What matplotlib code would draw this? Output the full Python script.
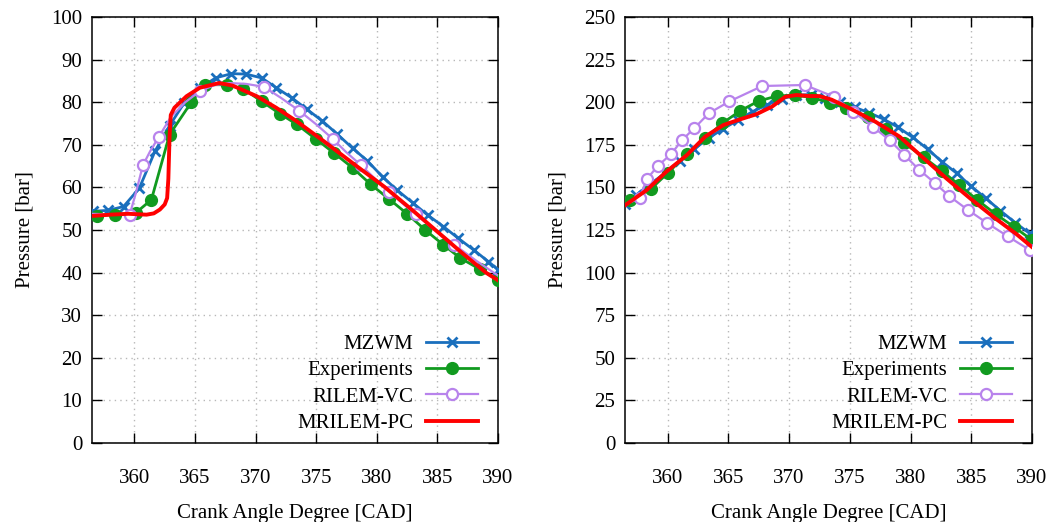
import matplotlib
matplotlib.use("Agg")
import matplotlib.pyplot as plt

plt.rcParams['font.family'] = ['Liberation Serif', 'DejaVu Serif']
plt.rcParams['mathtext.fontset'] = 'stix'

# ---------------- Data: left panel ----------------
L_mzwm_x = [356.6, 357.8, 359.1, 360.4, 361.7, 362.9, 364.1, 365.4, 366.7, 368.0, 369.2, 370.5,
            371.7, 373.0, 374.2, 375.5, 376.7, 378.0, 379.2, 380.5, 381.7, 383.0, 384.2, 385.5,
            386.7, 388.0, 389.2, 390.0]
L_mzwm_y = [54.4, 54.6, 55.5, 59.8, 68.5, 74.5, 79.8, 83.3, 85.7, 86.7, 86.6, 85.7,
            83.4, 81.0, 78.4, 75.6, 72.6, 69.2, 66.3, 62.4, 59.3, 56.3, 53.5, 50.8,
            48.1, 45.3, 42.6, 40.7]

L_exp_x = [356.9, 358.4, 360.1, 361.4, 362.9, 364.7, 365.8, 367.6, 369.0, 370.5, 372.0, 373.4,
           375.0, 376.5, 378.0, 379.5, 381.0, 382.5, 384.0, 385.5, 386.9, 388.5, 390.0]
L_exp_y = [53.4, 53.6, 54.0, 57.1, 72.4, 80.0, 84.1, 84.1, 83.1, 80.2, 77.3, 74.8,
           71.3, 68.0, 64.6, 60.7, 57.3, 53.8, 50.0, 46.5, 43.4, 40.8, 38.3]

L_vc_x = [356.5, 357.5, 358.5, 359.6, 360.1, 360.7, 361.3, 362.0, 363.0, 364.2, 365.4, 366.6,
          367.8, 369.2, 370.7, 372.1, 373.6, 375.0, 376.4, 377.5, 378.7, 379.8, 381.0, 382.1,
          383.2, 384.8, 386.4, 388.2, 390.0]
L_vc_y = [53.8, 53.7, 53.6, 53.5, 58.5, 65.2, 68.5, 71.8, 76.5, 80.0, 82.6, 84.0,
          84.5, 84.3, 83.6, 81.0, 78.0, 74.8, 71.3, 68.2, 65.2, 62.2, 59.0, 56.3,
          53.7, 50.0, 46.5, 42.8, 39.3]
L_vc_marks = [3, 5, 7, 10, 14, 16, 18, 20, 22, 24, 26]

L_pc_x = [356.5, 358.0, 359.5, 361.0, 361.6, 362.1, 362.5, 362.7, 362.8, 362.9, 363.0, 363.3,
          364.3, 365.4, 367.0, 368.1, 370.1, 371.7, 373.4, 375.6, 378.1, 380.6, 383.0, 385.0,
          387.0, 389.0, 390.0]
L_pc_y = [53.3, 53.6, 53.8, 53.6, 53.9, 54.8, 56.0, 57.5, 62.0, 72.0, 77.0, 78.7,
          81.4, 83.4, 84.5, 83.9, 81.4, 78.7, 75.5, 70.9, 65.5, 60.2, 54.5, 49.6,
          44.7, 40.0, 38.2]

# ---------------- Data: right panel ----------------
R_mzwm_x = [356.5, 357.4, 358.6, 359.8, 361.0, 362.2, 363.4, 364.6, 365.8, 367.0, 368.2, 369.4,
            370.6, 371.8, 373.0, 374.2, 375.4, 376.6, 377.8, 379.0, 380.2, 381.4, 382.6, 383.8,
            385.0, 386.2, 387.4, 388.6, 389.8]
R_mzwm_y = [140.5, 145.5, 152.0, 158.5, 165.5, 172.5, 179.0, 184.5, 189.5, 194.5, 198.5, 202.0,
            204.2, 204.5, 202.5, 200.0, 197.0, 193.8, 190.0, 185.2, 179.3, 172.5, 165.0, 158.3,
            150.6, 143.6, 136.3, 129.4, 123.0]

R_exp_x = [356.9, 358.6, 360.0, 361.6, 363.1, 364.5, 366.0, 367.5, 369.0, 370.5, 371.9, 373.4,
           374.7, 376.5, 378.0, 379.5, 381.1, 382.6, 384.0, 385.5, 387.0, 388.5, 390.0]
R_exp_y = [142.6, 148.9, 158.3, 169.4, 178.8, 187.6, 195.0, 200.7, 203.6, 204.2, 202.6, 199.7,
           196.4, 191.5, 184.0, 175.9, 167.6, 159.5, 151.5, 142.6, 134.4, 126.9, 119.1]

R_vc_x = [356.5, 357.7, 358.3, 359.2, 360.3, 361.2, 362.2, 363.4, 365.1, 367.8, 371.3, 373.7,
          375.3, 376.9, 378.3, 379.5, 380.7, 382.0, 383.2, 384.7, 386.3, 388.0, 389.8]
R_vc_y = [140.0, 143.6, 154.9, 162.6, 169.6, 177.8, 184.7, 193.5, 200.5, 209.5, 210.1, 203.2,
          194.4, 185.6, 177.6, 169.0, 160.4, 152.6, 144.8, 136.9, 129.1, 121.3, 113.3]
R_vc_marks = list(range(1, 23))

R_pc_x = [356.5, 358.3, 359.9, 361.6, 363.1, 364.6, 366.0, 367.3, 368.6, 369.7, 370.6, 371.7,
          372.5, 373.5, 375.0, 377.1, 379.1, 381.1, 383.0, 384.9, 386.8, 388.7, 390.0]
R_pc_y = [139.5, 148.5, 159.2, 169.0, 179.8, 186.6, 190.0, 192.9, 197.4, 203.2, 204.2, 203.6,
          203.6, 201.5, 196.4, 188.6, 179.8, 167.0, 155.0, 143.6, 132.8, 122.7, 115.0]

x_ticks = [360, 365, 370, 375, 380, 385, 390]
L_yticks = [0, 10, 20, 30, 40, 50, 60, 70, 80, 90, 100]
R_yticks = [0, 25, 50, 75, 100, 125, 150, 175, 200, 225, 250]
labels = ['MZWM', 'Experiments', 'RILEM-VC', 'MRILEM-PC']

C_BLUE = '#1a6fbd'
C_GREEN = '#119a1f'
C_PURPLE = '#b883ec'
C_RED = '#ff0000'

FS = 15

fig = plt.figure(figsize=(10.53, 5.22), dpi=100)
W, H = 1053, 522
axL = fig.add_axes([92 / W, (H - 443) / H, 406 / W, 426 / H])
axR = fig.add_axes([625 / W, (H - 443) / H, 407 / W, 426 / H])


def draw(ax, mx, my, ex, ey, vx, vy, vmarks, px, py, yticks, ylim):
    h1, = ax.plot(mx, my, color=C_BLUE, lw=2.0, marker='x', ms=7, mew=2.0, zorder=3)
    h2, = ax.plot(ex, ey, color=C_GREEN, lw=2.0, marker='o', ms=8.5, zorder=4)
    h3, = ax.plot(vx, vy, color=C_PURPLE, lw=1.6, marker='o', ms=8, mfc='white',
                  mew=1.6, markevery=vmarks, zorder=5)
    h4, = ax.plot(px, py, color=C_RED, lw=2.8, zorder=6)
    ax.set_xlim(356.5, 390)
    ax.set_ylim(*ylim)
    ax.set_xticks(x_ticks)
    ax.set_yticks(yticks)
    ax.grid(True, color='#b8b8b8', linestyle=(0, (1, 3)), linewidth=1.0)
    ax.set_axisbelow(True)
    ax.tick_params(axis='both', which='major', direction='in', length=7, width=1.0,
                   top=True, right=True, labelsize=FS, colors='black')
    ax.tick_params(axis='x', pad=19)
    ax.tick_params(axis='y', pad=7)
    for s in ax.spines.values():
        s.set_linewidth(1.1)
    ax.set_xlabel('Crank Angle Degree [CAD]', fontsize=FS, labelpad=11)
    ax.set_ylabel('Pressure [bar]', fontsize=FS, labelpad=12)
    ax.legend([h1, h2, h3, h4], labels, loc='lower right',
              bbox_to_anchor=(1 - 20 / 406, 10 / 426), frameon=False,
              markerfirst=False, fontsize=FS, handlelength=2.5, handletextpad=0.6,
              labelspacing=0.32, borderpad=0, borderaxespad=0)


draw(axL, L_mzwm_x, L_mzwm_y, L_exp_x, L_exp_y, L_vc_x, L_vc_y, L_vc_marks,
     L_pc_x, L_pc_y, L_yticks, (0, 100))
draw(axR, R_mzwm_x, R_mzwm_y, R_exp_x, R_exp_y, R_vc_x, R_vc_y, R_vc_marks,
     R_pc_x, R_pc_y, R_yticks, (0, 250))

fig.savefig('out.png', dpi=100)
